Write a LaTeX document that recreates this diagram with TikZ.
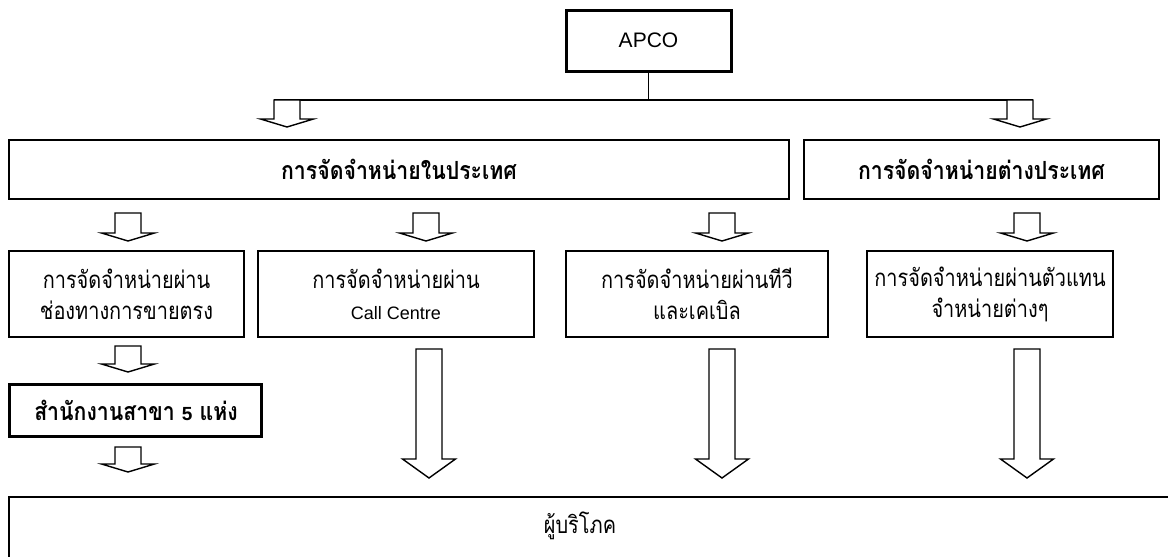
\documentclass[tikz,border=0pt]{standalone}
\usepackage{fontspec}
\setmainfont{Liberation Sans}
\newfontfamily\thai[Script=Thai,FakeStretch=0.83]{Loma}
\newfontfamily\thaib[Script=Thai,FakeStretch=0.85]{Loma Bold}
\begin{document}
\begin{tikzpicture}[x=1pt,y=-1pt,
  box/.style={draw=black,line width=1.3pt,inner sep=0pt},
  thick box/.style={draw=black,line width=3pt,inner sep=0pt},
  arr/.style={draw=black,line width=1.4pt,fill=white,line join=miter},
  lab/.style={align=center,font=\thai\fontsize{24}{31}\selectfont},
  blab/.style={align=center,font=\thaib\fontsize{25}{31}\selectfont}]
\useasboundingbox (0,0) rectangle (1168,557);
\newcommand{\blkarrow}[4]{\draw[arr] (#1-13,#2) -- (#1-13,#3-#4) -- (#1-26.5,#3-#4) -- (#1,#3) -- (#1+26.5,#3-#4) -- (#1+13,#3-#4) -- (#1+13,#2) -- cycle;}
% boxes
\draw[thick box] (566,10) rectangle (731,71);
\node (apco) at (648.5,40.5) {\fontsize{21}{24}\selectfont APCO};
\coordinate (apcob) at (648.5,71);
\draw[box] (9,140) rectangle (789,199);
\node[blab] (dom) at (399,169.5) {การจัดจำหน่ายในประเทศ};
\draw[box] (804,140) rectangle (1159,199);
\node[blab] (for) at (981.5,169.5) {การจัดจำหน่ายต่างประเทศ};
\draw[box] (9,251) rectangle (244,337);
\node[lab] (b1) at (126.5,294) {การจัดจำหน่ายผ่าน\\ช่องทางการขายตรง};
\draw[box] (258,251) rectangle (534,337);
\node[lab] (b2) at (396,294) {การจัดจำหน่ายผ่าน\\{\normalfont\fontsize{18}{31}\selectfont Call Centre}};
\draw[box] (566,251) rectangle (828,337);
\node[lab] (b3) at (697,294) {การจัดจำหน่ายผ่านทีวี\\และเคเบิล};
\draw[box] (867,251) rectangle (1113,337);
\node[lab] (b4) at (990,294) {การจัดจำหน่ายผ่านตัวแทน\\จำหน่ายต่างๆ};
\draw[thick box] (9,384) rectangle (261,436);
\node[blab] (br) at (136,410) {สำนักงานสาขา {\normalfont\bfseries\fontsize{19}{20}\selectfont 5} แห่ง};
\draw[box] (9,497) rectangle (1180,557.5);
\node[lab] (cons) at (580,526) {ผู้บริโภค};
% connector
\coordinate (hl) at (274,100);
\coordinate (hr) at (1033,100);
\draw[line width=1.3pt] (apcob) -- (648.5,100);
\draw[line width=1.6pt] (hl) -- (hr);
% arrows
\blkarrow{287}{100}{127}{8}
\blkarrow{1020}{100}{127}{8}
\blkarrow{128}{213}{241}{8}
\blkarrow{426}{213}{241}{8}
\blkarrow{722}{213}{241}{8}
\blkarrow{1027}{213}{241}{8}
\blkarrow{128}{346}{372}{8}
\blkarrow{128}{447}{472}{8}
\blkarrow{429}{349}{478}{19}
\blkarrow{722}{349}{478}{19}
\blkarrow{1027}{349}{478}{19}
\end{tikzpicture}
\end{document}
